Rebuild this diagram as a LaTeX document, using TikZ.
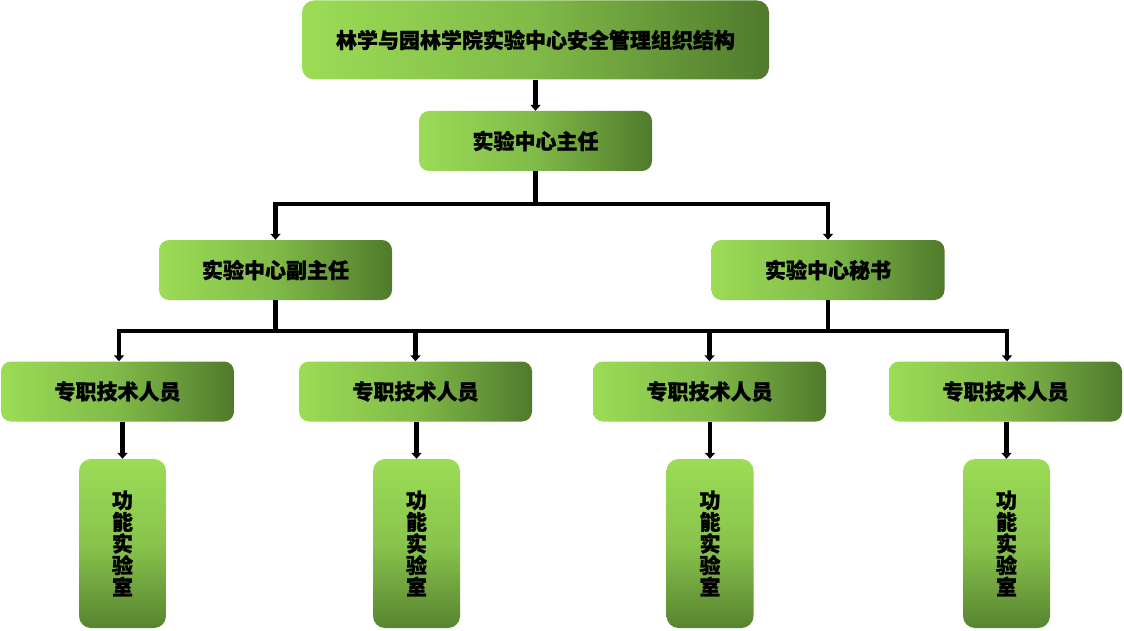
\documentclass[tikz,border=0pt]{standalone}
\usepackage{fontspec}
\setmainfont{Noto Sans CJK SC}[BoldFeatures={FakeBold=1.2}]
\usetikzlibrary{arrows.meta}
\definecolor{glight}{RGB}{156,220,86}
\definecolor{gmid}{RGB}{128,186,72}
\definecolor{gdark}{RGB}{80,122,44}
\tikzset{
  hbox/.style={rounded corners=10pt, left color=glight, right color=gdark, middle color=gmid,
    minimum width=233pt, minimum height=60pt, inner sep=0pt,
    font=\fontsize{21}{24}\selectfont\bfseries},
  titlebox/.style={hbox, minimum width=467pt, minimum height=79pt, rounded corners=12pt},
  vbox/.style={rounded corners=12pt, top color=glight, bottom color=gdark!90!glight, middle color=gmid!70!glight,
    minimum width=87pt, minimum height=169pt, inner sep=0pt, align=center,
    font=\fontsize{21}{21.7}\selectfont\bfseries},
  conn/.style={line width=4.5pt, black},
  arr/.style={conn, -{Triangle[width=10pt,length=6pt]}},
}
\begin{document}
\begin{tikzpicture}[x=1pt,y=-1pt]
\useasboundingbox (0,0) rectangle (1124,631);
% nodes
\node[titlebox] (top) at (535.5,40) {林学与园林学院实验中心安全管理组织结构};
\node[hbox] (dir) at (535.5,141) {实验中心主任};
\node[hbox] (dep) at (275.5,270) {实验中心副主任};
\node[hbox] (sec) at (828,270) {实验中心秘书};
\node[hbox] (s1) at (117.5,391.5) {专职技术人员};
\node[hbox] (s2) at (415.5,391.5) {专职技术人员};
\node[hbox] (s3) at (709.5,391.5) {专职技术人员};
\node[hbox] (s4) at (1005.5,391.5) {专职技术人员};
\node[vbox] (l1) at (122.5,543.5) {功\\能\\实\\验\\室};
\node[vbox] (l2) at (416.5,543.5) {功\\能\\实\\验\\室};
\node[vbox] (l3) at (710,543.5) {功\\能\\实\\验\\室};
\node[vbox] (l4) at (1006.5,543.5) {功\\能\\实\\验\\室};
% junctions
\coordinate (j1) at (535.5,204);
\coordinate (j2) at (275.5,331);
\coordinate (j3) at (828,331);
\coordinate (k1) at (119,331);
\coordinate (k4) at (1007,331);
% connectors
\draw[arr] (top.south) -- (dir.north);
\draw[conn] (dir.south) -- (j1);
\draw[arr, line cap=rect] (j1) -| (dep.north);
\draw[arr, line cap=rect] (j1) -| (sec.north);
\draw[conn] (dep.south) -- (j2);
\draw[conn] (sec.south) -- (j3);
\draw[conn, line cap=rect] (k1) -- (k4);
\draw[arr] (k1) -- (k1 |- s1.north);
\draw[arr] (j2 -| s2.north) -- (s2.north);
\draw[arr] (j2 -| s3.north) -- (s3.north);
\draw[arr] (k4) -- (k4 |- s4.north);
\draw[arr] (l1.north |- s1.south) -- (l1.north);
\draw[arr] (l2.north |- s2.south) -- (l2.north);
\draw[arr] (l3.north |- s3.south) -- (l3.north);
\draw[arr] (l4.north |- s4.south) -- (l4.north);
\end{tikzpicture}
\end{document}
